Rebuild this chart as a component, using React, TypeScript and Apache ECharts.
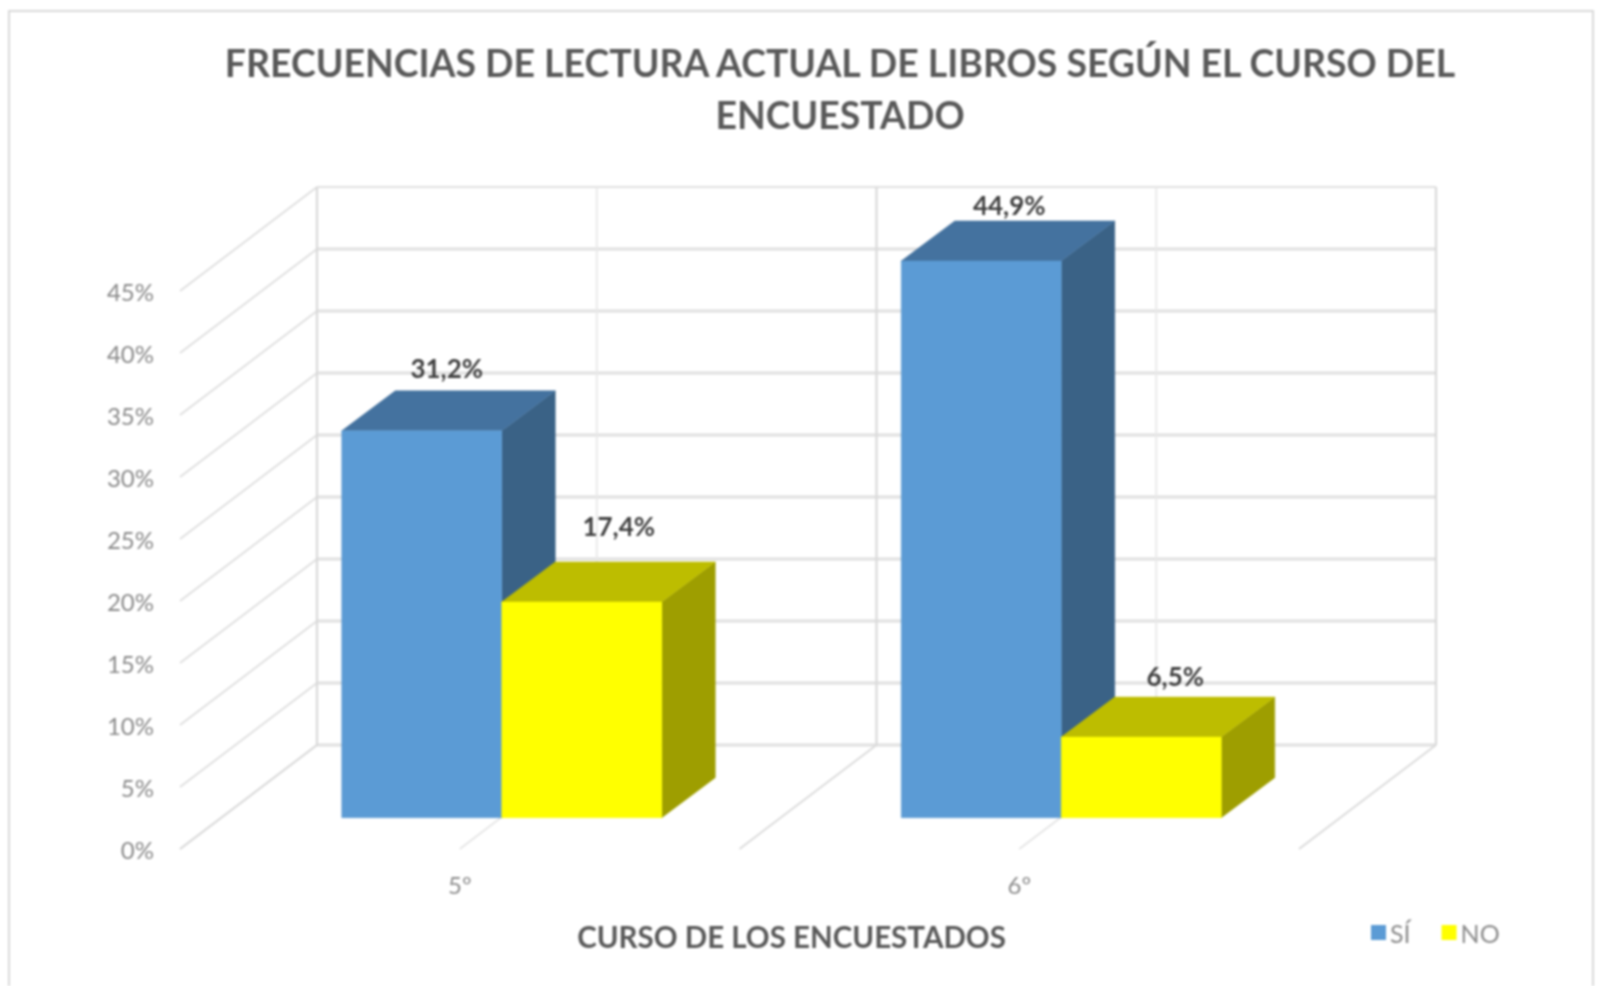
import React, { useEffect, useRef } from "react";
import * as echarts from "echarts";

const titleLines = ["FRECUENCIAS DE LECTURA ACTUAL DE LIBROS SEGÚN EL CURSO DEL", "ENCUESTADO"];
const axisTitle = "CURSO DE LOS ENCUESTADOS";
const categories = ["5º", "6º"];
const valueTicks = [0, 5, 10, 15, 20, 25, 30, 35, 40, 45];
const siValues = [31.2, 44.9];
const noValues = [17.4, 6.5];
const siLabels = ["31,2%", "44,9%"];
const noLabels = ["17,4%", "6,5%"];

const FONT = "Lato, 'Noto Sans', sans-serif";
const WALL = { dx: 137, dy: -104 };
const BAR_PLANE = { dx: 42, dy: -31.3 };
const BAR_DEPTH = { dx: 53.5, dy: -40 };
const BAR_WIDTH = 160;
const siLabelOffsets = [[25, -23], [28, -16]];
const noLabelOffsets = [[37, -36], [34, -21]];

const line = (x1: number, y1: number, x2: number, y2: number, stroke: string, lineWidth: number) => ({
  type: "line",
  silent: true,
  shape: { x1, y1, x2, y2 },
  style: { stroke, lineWidth, fill: "none" },
});

const poly = (points: number[][], fill: string) => ({
  type: "polygon",
  silent: true,
  shape: { points },
  style: { fill, stroke: fill, lineWidth: 0.5 },
});

function wallRender(params: any, api: any) {
  const cs = params.coordSys;
  const v = api.value(1);
  const y = api.coord([0, v])[1];
  const bx = cs.x + WALL.dx;
  const by = y + WALL.dy;
  const top = v === valueTicks[valueTicks.length - 1];
  return {
    type: "group",
    children: [
      line(cs.x, y, bx, by, "#dedede", 1.8),
      line(bx, by, bx + cs.width, by, "#e0e0e0", top ? 1.8 : 3.2),
    ],
  };
}

function floorRender(params: any, api: any) {
  const cs = params.coordSys;
  const i = api.value(0);
  const p = api.coord([i, 0]);
  const band = api.size([1, 0])[0];
  const topY = cs.y + WALL.dy;
  const bottomY = p[1] + WALL.dy;
  const children: any[] = [];
  const edges = i === 0 ? [p[0] - band / 2, p[0] + band / 2] : [p[0] + band / 2];
  edges.forEach((x) => {
    children.push(line(x, p[1], x + WALL.dx, bottomY, "#dadada", 1.8));
    children.push(line(x + WALL.dx, bottomY, x + WALL.dx, topY, "#d9d9d9", 2.2));
  });
  children.push(line(p[0], p[1], p[0] + WALL.dx, bottomY, "#e4e4e4", 1.6));
  children.push(line(p[0] + WALL.dx, bottomY, p[0] + WALL.dx, topY, "#e8e8e8", 1.8));
  return { type: "group", children };
}

const barRender = (side: number, front: string, topC: string, sideC: string, labels: string[], offsets: number[][]) =>
  (_params: any, api: any) => {
    const i = api.value(0);
    const v = api.value(1);
    const base = api.coord([i, 0]);
    const head = api.coord([i, v]);
    const x0 = base[0] + BAR_PLANE.dx + (side === 0 ? -BAR_WIDTH : 0);
    const x1 = x0 + BAR_WIDTH;
    const yb = base[1] + BAR_PLANE.dy;
    const yt = head[1] + BAR_PLANE.dy;
    const { dx, dy } = BAR_DEPTH;
    return {
      type: "group",
      children: [
        poly([[x1, yb], [x1 + dx, yb + dy], [x1 + dx, yt + dy], [x1, yt]], sideC),
        poly([[x0, yt], [x0 + dx, yt + dy], [x1 + dx, yt + dy], [x1, yt]], topC),
        poly([[x0, yb], [x1, yb], [x1, yt], [x0, yt]], front),
        {
          type: "text",
          silent: true,
          style: {
            text: labels[i],
            x: (x0 + x1) / 2 + offsets[i][0],
            y: yt + dy + offsets[i][1],
            align: "center",
            verticalAlign: "middle",
            fontFamily: FONT,
            fontWeight: "bold",
            fontSize: 26,
            fill: "#404040",
          },
        },
      ],
    };
  };

export default function App() {
  const ref = useRef<HTMLDivElement>(null);
  useEffect(() => {
    const chart = echarts.init(ref.current!, undefined, { renderer: "svg" });
    chart.setOption({
      animation: false,
      backgroundColor: "#ffffff",
      title: {
        text: titleLines.join("\n"),
        left: 835,
        top: 31,
        textAlign: "center",
        textStyle: { fontFamily: FONT, fontWeight: "bold", fontSize: 37.4, lineHeight: 52, color: "#595959" },
      },
      legend: {
        data: ["SÍ", "NO"],
        left: 1366,
        top: 915,
        itemWidth: 15,
        itemHeight: 15,
        itemGap: 31,
        icon: "rect",
        textStyle: { fontFamily: FONT, fontSize: 25, color: "#8c8c8c", padding: [0, 0, 0, -1] },
      },
      grid: { left: 180, top: 291, width: 1119, height: 558 },
      xAxis: {
        type: "category",
        data: categories,
        axisLine: { show: false },
        axisTick: { show: false },
        splitLine: { show: false },
        axisLabel: { margin: 23, fontFamily: FONT, fontSize: 24, color: "#8c8c8c" },
        name: axisTitle,
        nameLocation: "middle",
        nameGap: 72,
        nameTextStyle: {
          fontFamily: FONT,
          fontWeight: "bold",
          fontSize: 29.5,
          color: "#595959",
          padding: [0, 0, 0, 104],
        },
      },
      yAxis: {
        type: "value",
        min: 0,
        max: 45,
        interval: 5,
        axisLine: { show: false },
        axisTick: { show: false },
        splitLine: { show: false },
        axisLabel: {
          formatter: "{value}%",
          margin: 26,
          fontFamily: FONT,
          fontSize: 24,
          color: "#8a8a8a",
          padding: [0, 0, 6, 0],
        },
      },
      graphic: [
        {
          type: "rect",
          silent: true,
          z: -10,
          shape: { x: 9, y: 11, width: 1584, height: 990 },
          style: { fill: "none", stroke: "#d9d9d9", lineWidth: 2 },
        },
      ],
      series: [
        {
          type: "custom",
          name: "paredes",
          z: 1,
          clip: false,
          silent: true,
          renderItem: wallRender,
          data: valueTicks.map((t) => [0, t]),
        },
        {
          type: "custom",
          name: "suelo",
          z: 1,
          clip: false,
          silent: true,
          renderItem: floorRender,
          data: categories.map((_, i) => [i, 0]),
        },
        {
          type: "custom",
          name: "SÍ",
          z: 2,
          clip: false,
          itemStyle: { color: "#5B9BD5" },
          renderItem: barRender(0, "#5B9BD5", "#44729F", "#3A6286", siLabels, siLabelOffsets),
          data: siValues.map((v, i) => [i, v]),
        },
        {
          type: "custom",
          name: "NO",
          z: 3,
          clip: false,
          itemStyle: { color: "#FFFF00" },
          renderItem: barRender(1, "#FFFF00", "#BDBD00", "#9E9E00", noLabels, noLabelOffsets),
          data: noValues.map((v, i) => [i, v]),
        },
      ],
    });
    return () => chart.dispose();
  }, []);
  return (
    <div
      ref={ref}
      style={{ position: "fixed", left: 0, top: 0, width: 1598, height: 986, filter: "blur(1px)" }}
    />
  );
}
